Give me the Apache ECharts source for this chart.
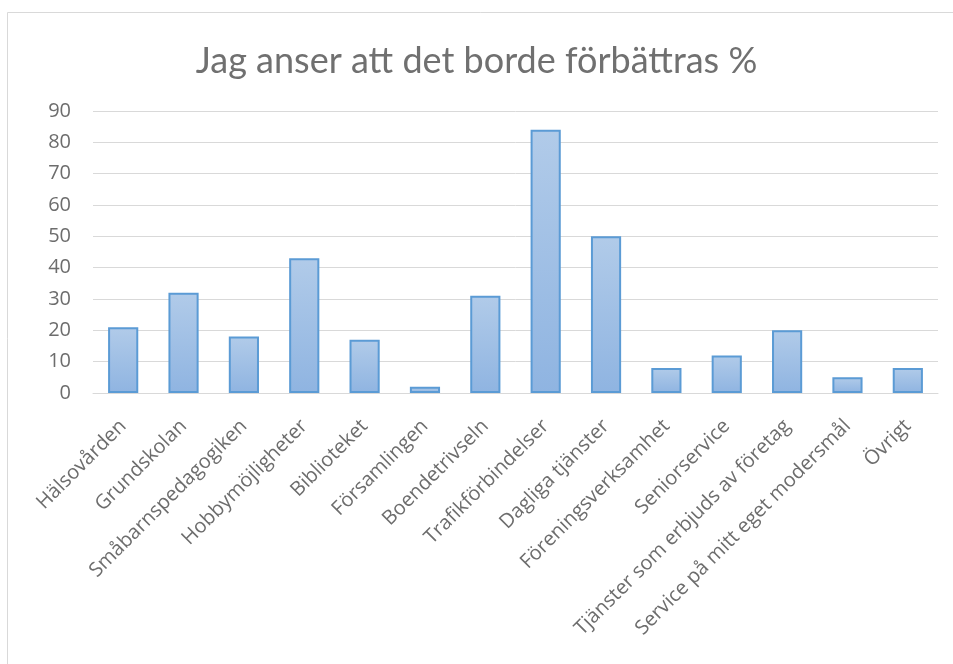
<!DOCTYPE html>
<html>
<head>
<meta charset="utf-8">
<script src="https://cdn.jsdelivr.net/npm/echarts@6/dist/echarts.min.js"></script>
<style>
  html, body { margin: 0; padding: 0; background: #fff; }
  #chart { width: 953px; height: 664px; }
</style>
</head>
<body>
<div id="chart"></div>
<script>
// kategorier och andel (%) som anser att det borde förbättras
var categories = ['Hälsovården', 'Grundskolan', 'Småbarnspedagogiken', 'Hobbymöjligheter',
    'Biblioteket', 'Församlingen', 'Boendetrivseln', 'Trafikförbindelser', 'Dagliga tjänster',
    'Föreningsverksamhet', 'Seniorservice', 'Tjänster som erbjuds av företag',
    'Service på mitt eget modersmål', 'Övrigt'];
var values = [21, 32, 18, 43, 17, 2, 31, 84, 50, 8, 12, 20, 5, 8];
var titleText = 'Jag anser att det borde förbättras %';

var myChart = echarts.init(document.getElementById('chart'));

var option = {
    backgroundColor: '#fff',
    animation: false,
    title: {
        text: titleText,
        left: 'center',
        top: 38,
        textStyle: {
            color: '#707070',
            fontFamily: 'Lato',
            fontWeight: 'normal',
            fontSize: 36
        }
    },
    graphic: [{
        type: 'rect',
        shape: { x: 7.5, y: 12.5, width: 1000, height: 700 },
        style: { fill: 'none', stroke: '#d9d9d9', lineWidth: 1 },
        silent: true
    }],
    grid: {
        left: 93,
        right: 15,
        top: 111,
        bottom: 271
    },
    xAxis: {
        type: 'category',
        data: categories,
        axisLine: { lineStyle: { color: '#d9d9d9', width: 1 } },
        axisTick: { show: false },
        axisLabel: {
            rotate: 45,
            interval: 0,
            color: '#6d6d6d',
            fontFamily: '"Open Sans"',
            fontSize: 20,
            margin: 30
        }
    },
    yAxis: {
        type: 'value',
        min: 0,
        max: 90,
        interval: 10,
        axisLine: { show: false },
        axisTick: { show: false },
        splitLine: { lineStyle: { color: '#d9d9d9', width: 1 } },
        axisLabel: {
            color: '#6d6d6d',
            fontFamily: '"Open Sans"',
            fontSize: 20,
            margin: 22
        }
    },
    series: [{
        type: 'bar',
        data: values,
        barCategoryGap: '50%',
        itemStyle: {
            color: new echarts.graphic.LinearGradient(0, 0, 0, 1, [
                { offset: 0, color: '#b1cbe9' },
                { offset: 1, color: '#8fb4e1' }
            ], false, true),
            borderColor: '#5b9bd5',
            borderWidth: 2
        }
    }]
};

myChart.setOption(option);
</script>
</body>
</html>
